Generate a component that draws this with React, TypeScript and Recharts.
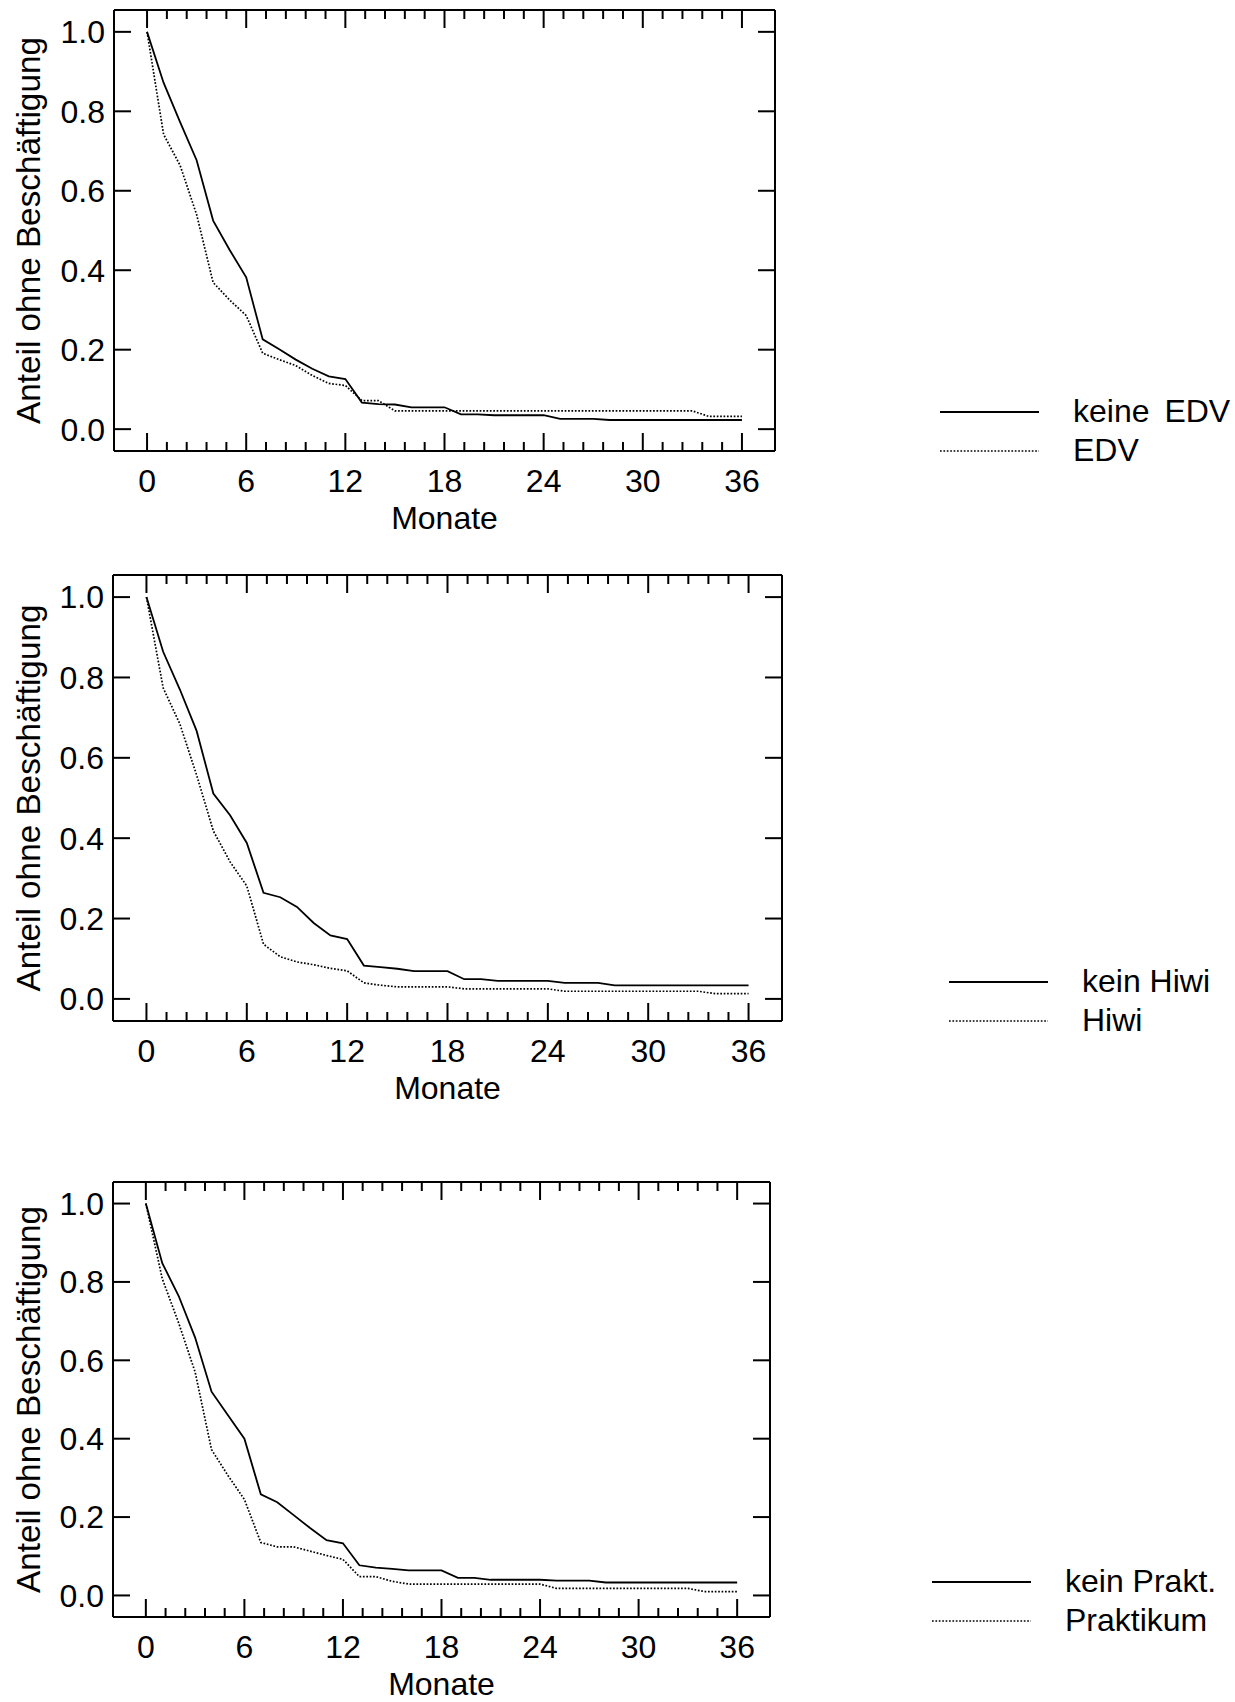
import React from 'react';
import { LineChart, Line, XAxis, YAxis, Legend } from 'recharts';

const FONT = "'Liberation Sans', Arial, Helvetica, sans-serif";
const PAGE_W = 1235;
const PAGE_H = 1702;

// ---------- data ----------
const months = [0, 1, 2, 3, 4, 5, 6, 7, 8, 9, 10, 11, 12, 13, 14, 15, 16, 17, 18, 19, 20, 21, 22, 23, 24, 25, 26, 27, 28, 29, 30, 31, 32, 33, 34, 35, 36];

const keineEDV = [1.0, 0.872, 0.773, 0.677, 0.525, 0.451, 0.382, 0.226, 0.201, 0.175,
  0.152, 0.133, 0.126, 0.067, 0.063, 0.062, 0.055, 0.055, 0.055, 0.037,
  0.037, 0.035, 0.035, 0.035, 0.035, 0.026, 0.026, 0.026, 0.023, 0.023,
  0.023, 0.023, 0.023, 0.023, 0.023, 0.023, 0.023];
const edv = [1.0, 0.742, 0.664, 0.54, 0.369, 0.325, 0.286, 0.191, 0.175, 0.16,
  0.135, 0.115, 0.11, 0.072, 0.072, 0.046, 0.046, 0.046, 0.046, 0.046,
  0.046, 0.046, 0.046, 0.046, 0.046, 0.046, 0.046, 0.046, 0.046, 0.046,
  0.046, 0.046, 0.046, 0.046, 0.032, 0.032, 0.032];

const keinHiwi = [1.0, 0.864, 0.77, 0.667, 0.511, 0.457, 0.388, 0.264, 0.253, 0.229,
  0.189, 0.158, 0.149, 0.083, 0.079, 0.075, 0.069, 0.069, 0.069, 0.049,
  0.049, 0.045, 0.045, 0.045, 0.045, 0.04, 0.04, 0.04, 0.0335, 0.0335,
  0.0335, 0.0335, 0.0335, 0.0335, 0.0335, 0.0335, 0.0335];
const hiwi = [1.0, 0.774, 0.684, 0.557, 0.418, 0.341, 0.281, 0.136, 0.105, 0.092,
  0.085, 0.076, 0.07, 0.04, 0.034, 0.03, 0.03, 0.03, 0.03, 0.025,
  0.025, 0.025, 0.025, 0.025, 0.025, 0.019, 0.019, 0.019, 0.019, 0.019,
  0.019, 0.019, 0.019, 0.019, 0.013, 0.013, 0.013];

const keinPrakt = [1.0, 0.848, 0.764, 0.658, 0.52, 0.46, 0.4, 0.258, 0.238, 0.205,
  0.172, 0.141, 0.133, 0.077, 0.071, 0.068, 0.064, 0.064, 0.064, 0.045,
  0.045, 0.04, 0.04, 0.04, 0.04, 0.038, 0.038, 0.038, 0.033, 0.033,
  0.033, 0.033, 0.033, 0.033, 0.033, 0.033, 0.033];
const praktikum = [1.0, 0.808, 0.695, 0.57, 0.372, 0.306, 0.245, 0.135, 0.124, 0.124,
  0.113, 0.102, 0.092, 0.048, 0.048, 0.036, 0.029, 0.029, 0.029, 0.029,
  0.029, 0.029, 0.029, 0.029, 0.029, 0.018, 0.018, 0.018, 0.018, 0.018,
  0.018, 0.018, 0.018, 0.018, 0.01, 0.01, 0.01];

const xMajorTicks = [0, 6, 12, 18, 24, 30, 36];
const xTicks = [0, 1.2, 2.4, 3.6, 4.8, 6, 7.2, 8.4, 9.6, 10.8, 12, 13.2, 14.4, 15.6, 16.8, 18,
  19.2, 20.4, 21.6, 22.8, 24, 25.2, 26.4, 27.6, 28.8, 30, 31.2, 32.4, 33.6, 34.8, 36];
const yTicks = [0, 0.2, 0.4, 0.6, 0.8, 1.0];
const xDomain = [-2, 38];
const yDomain = [-0.055, 1.055];
const xTitle = 'Monate';
const yTitle = 'Anteil ohne Beschäftigung';

// ---------- layout ----------
const panels = [
  {
    top: 0, height: 540, box: { L: 114, R: 775, T: 10, B: 451 },
    names: ['keine EDV', 'EDV'], values: [keineEDV, edv],
    legend: { left: 940, top: 392, wordSpacing: 6 },
  },
  {
    top: 550, height: 560, box: { L: 113, R: 782, T: 575, B: 1021 },
    names: ['kein Hiwi', 'Hiwi'], values: [keinHiwi, hiwi],
    legend: { left: 949, top: 412, wordSpacing: 0 },
  },
  {
    top: 1130, height: 572, box: { L: 113, R: 770, T: 1182, B: 1617 },
    names: ['kein Prakt.', 'Praktikum'], values: [keinPrakt, praktikum],
    legend: { left: 932, top: 432, wordSpacing: 0 },
  },
];

const AXIS = { stroke: '#000', strokeWidth: 2 };
const FS = 32;
const DOT = '1.7 1.7';

const isMajor = (v: number) => xMajorTicks.some((t) => Math.abs(t - v) < 1e-6);

const BottomTick = (props: any) => {
  const { x, y, payload } = props;
  const major = isMajor(payload.value);
  return (
    <g>
      <line x1={x} y1={y} x2={x} y2={y - (major ? 18 : 9)} stroke="#000" strokeWidth={2} />
      {major && (
        <text x={x} y={y + 41} textAnchor="middle" fontSize={FS} fontFamily={FONT} fill="#000">
          {String(Math.round(payload.value))}
        </text>
      )}
    </g>
  );
};

const TopTick = (props: any) => {
  const { x, y, payload } = props;
  const major = isMajor(payload.value);
  return <line x1={x} y1={y} x2={x} y2={y + (major ? 18 : 9)} stroke="#000" strokeWidth={2} />;
};

const LeftTick = (props: any) => {
  const { x, y, payload } = props;
  return (
    <g>
      <line x1={x} y1={y} x2={x + 17} y2={y} stroke="#000" strokeWidth={2} />
      <text x={x - 9} y={y + 11.4} textAnchor="end" fontSize={FS} fontFamily={FONT} fill="#000">
        {Number(payload.value).toFixed(1)}
      </text>
    </g>
  );
};

const RightTick = (props: any) => {
  const { x, y } = props;
  return <line x1={x} y1={y} x2={x - 17} y2={y} stroke="#000" strokeWidth={2} />;
};

const XTitle = (props: any) => {
  const vb = props.viewBox || {};
  return (
    <text x={vb.x + vb.width / 2} y={vb.y + 78} textAnchor="middle" fontSize={FS} fontFamily={FONT} fill="#000">
      {xTitle}
    </text>
  );
};

const YTitle = (props: any) => {
  const vb = props.viewBox || {};
  const cx = 28;
  const cy = vb.y + vb.height / 2;
  return (
    <text x={cx} y={cy} transform={`rotate(-90, ${cx}, ${cy})`} textAnchor="middle" dominantBaseline="central"
      fontSize={33.3} fontFamily={FONT} fill="#000">
      {yTitle}
    </text>
  );
};

const makeLegend = (names: string[], wordSpacing: number) => () => (
  <div style={{ fontFamily: FONT, fontSize: FS, color: '#000' }}>
    {names.map((n, i) => (
      <div key={n} style={{ display: 'flex', alignItems: 'center', height: 39, whiteSpace: 'nowrap' }}>
        <svg width={99} height={10} style={{ marginRight: 34, flex: 'none' }}>
          <line x1={0} y1={5} x2={99} y2={5} stroke="#000" strokeWidth={i === 0 ? 1.8 : 1.7}
            strokeDasharray={i === 1 ? DOT : undefined} />
        </svg>
        <span style={{ lineHeight: '39px', wordSpacing }}>{n}</span>
      </div>
    ))}
  </div>
);

function Panel({ cfg }: { cfg: any }) {
  const data = months.map((m, i) => ({ month: m, s0: cfg.values[0][i], s1: cfg.values[1][i] }));
  const { L, R, T, B } = cfg.box;
  const topH = T - cfg.top;
  const botH = cfg.top + cfg.height - B;
  const rightW = PAGE_W - R;
  return (
    <div style={{ position: 'absolute', left: 0, top: cfg.top }}>
      <LineChart width={PAGE_W} height={cfg.height} data={data} margin={{ top: 0, right: 0, bottom: 0, left: 0 }}>
        <XAxis xAxisId={0} dataKey="month" type="number" domain={xDomain} allowDataOverflow ticks={xTicks}
          interval={0} tickSize={0} tickMargin={0} tickLine={false} axisLine={AXIS} height={botH}
          tick={(p: any) => <BottomTick {...p} />} label={(p: any) => <XTitle {...p} />} />
        <XAxis xAxisId="top" orientation="top" dataKey="month" type="number" domain={xDomain} allowDataOverflow
          ticks={xTicks} interval={0} tickSize={0} tickMargin={0} tickLine={false} axisLine={AXIS} height={topH}
          tick={(p: any) => <TopTick {...p} />} />
        <YAxis yAxisId={0} type="number" domain={yDomain} allowDataOverflow ticks={yTicks} interval={0}
          tickSize={0} tickMargin={0} tickLine={false} axisLine={AXIS} width={L}
          tick={(p: any) => <LeftTick {...p} />} label={(p: any) => <YTitle {...p} />} />
        <YAxis yAxisId="right" orientation="right" type="number" domain={yDomain} allowDataOverflow ticks={yTicks}
          interval={0} tickSize={0} tickMargin={0} tickLine={false} axisLine={AXIS} width={rightW}
          tick={(p: any) => <RightTick {...p} />} />
        <Line xAxisId={0} yAxisId={0} dataKey="s0" name={cfg.names[0]} type="linear" stroke="#000" strokeWidth={1.8}
          dot={false} activeDot={false} isAnimationActive={false} />
        <Line xAxisId={0} yAxisId={0} dataKey="s1" name={cfg.names[1]} type="linear" stroke="#000" strokeWidth={1.7}
          strokeDasharray={DOT} dot={false} activeDot={false} isAnimationActive={false} />
        <Legend layout="vertical" align="center" verticalAlign="middle" content={makeLegend(cfg.names, cfg.legend.wordSpacing)}
          wrapperStyle={{ left: cfg.legend.left, top: cfg.legend.top, width: 320 }} />
      </LineChart>
    </div>
  );
}

export default function App() {
  return (
    <div style={{ position: 'absolute', left: 0, top: 0, width: PAGE_W, height: PAGE_H, overflow: 'hidden', background: '#fff' }}>
      {panels.map((p, i) => (
        <Panel key={i} cfg={p} />
      ))}
    </div>
  );
}
